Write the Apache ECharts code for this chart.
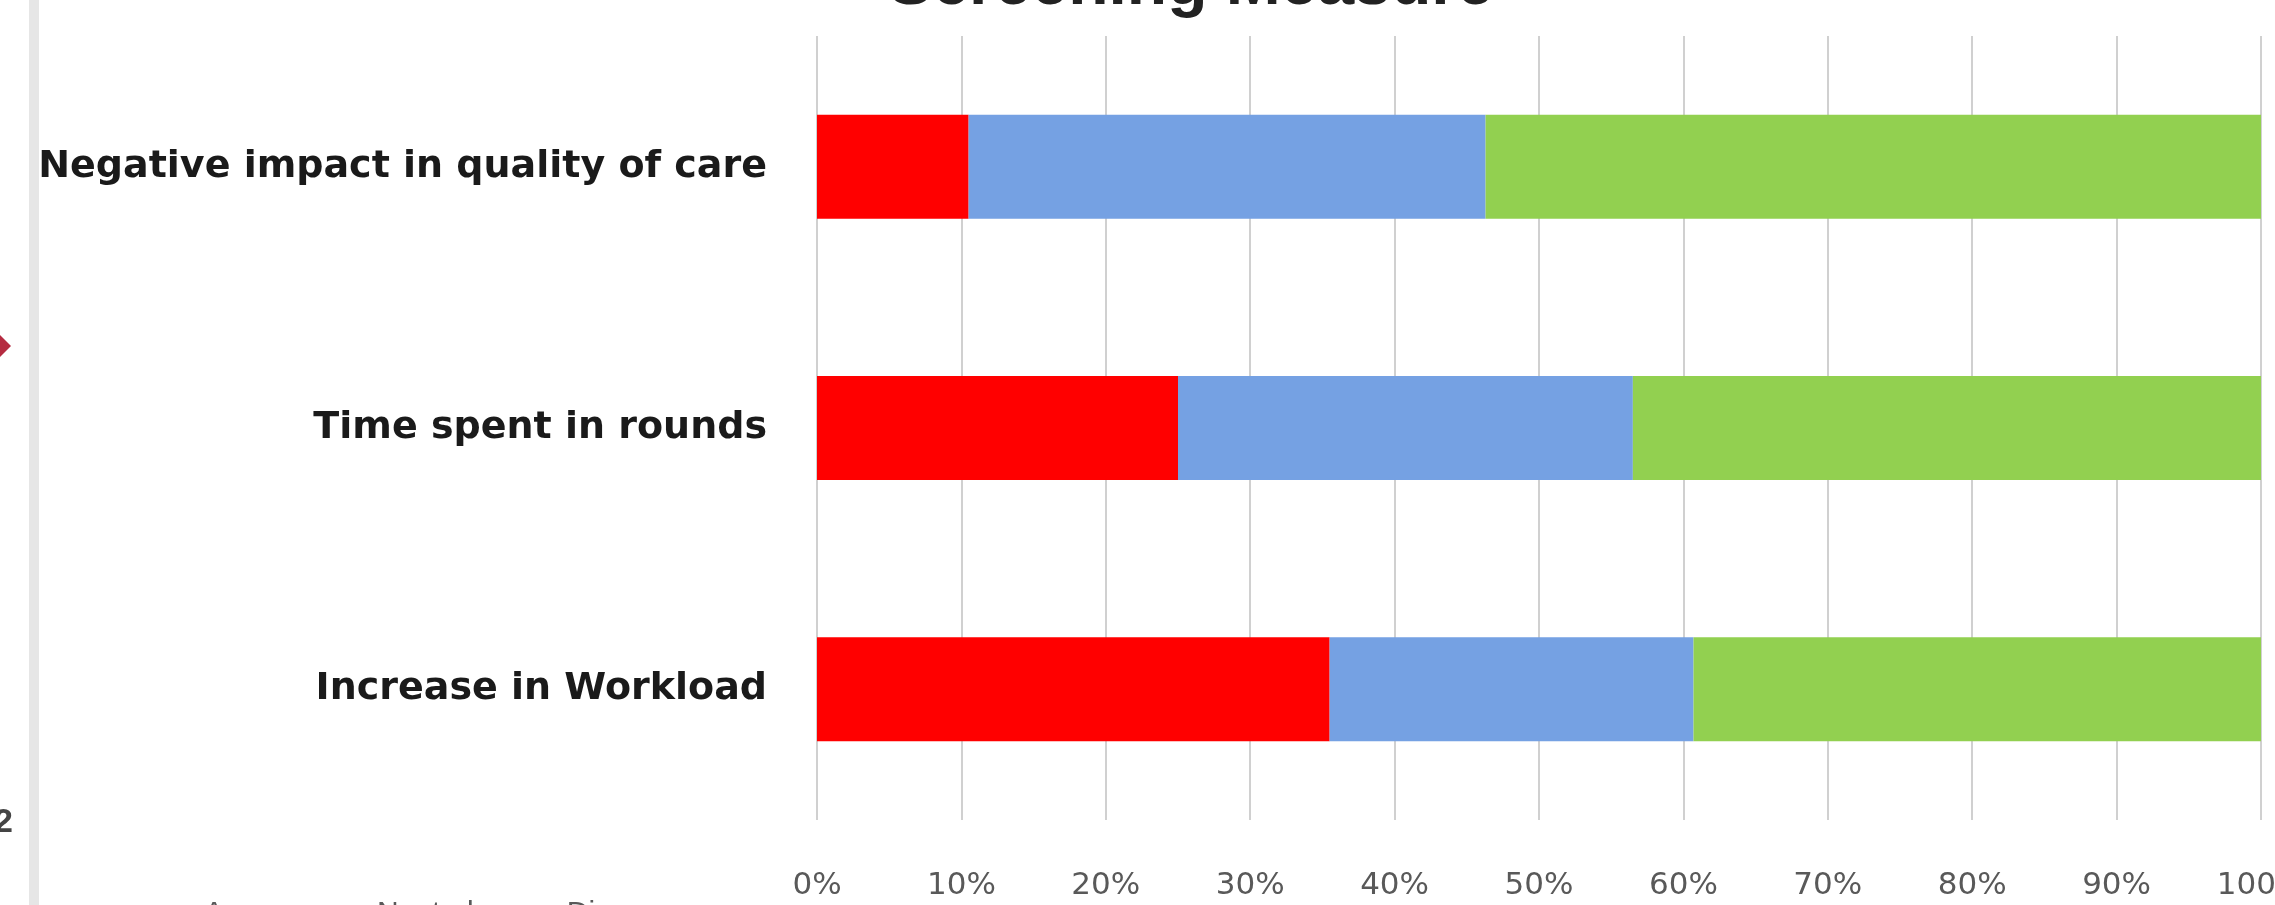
<!DOCTYPE html>
<html>
<head>
<meta charset="utf-8">
<title>Screening Measure</title>
<script src="https://cdn.jsdelivr.net/npm/echarts@6/dist/echarts.min.js"></script>
<style>
  html, body { margin: 0; padding: 0; background: #ffffff; }
  #chart { width: 2275px; height: 905px; }
</style>
</head>
<body>
<div id="chart"></div>
<script>
// Survey responses per statement, in percent of respondents
const categories = ['Negative impact in quality of care', 'Time spent in rounds', 'Increase in Workload'];
const seriesNames = ['Agree', 'Neutral', 'Disagree'];
const agree    = [10.5, 25.0, 35.5];
const neutral  = [35.8, 31.5, 25.2];
const disagree = [53.7, 43.5, 39.3];
const xTicks = { min: 0, max: 100, interval: 10 };

const colors = ['#FF0000', '#75A1E3', '#92D050'];
const fontFamily = '"Liberation Sans", Arial, sans-serif';
const wideFont = '"DejaVu Sans", "Liberation Sans", sans-serif';

const chart = echarts.init(document.getElementById('chart'), null, { renderer: 'canvas' });

const makeBar = (name, data, color) => ({
  name: name,
  type: 'bar',
  stack: 'total',
  data: data,
  barWidth: 104,
  itemStyle: { color: color },
  emphasis: { disabled: true }
});

chart.setOption({
  animation: false,
  backgroundColor: '#ffffff',
  title: {
    text: 'Screening Measure',
    left: 1186,
    textAlign: 'center',
    top: -52,
    textStyle: { fontFamily: fontFamily, fontSize: 66, fontWeight: 'bold', color: '#222222' }
  },
  legend: {
    data: seriesNames,
    left: 178,
    top: 894,
    itemWidth: 16,
    itemHeight: 16,
    itemGap: 72,
    icon: 'rect',
    textStyle: { fontFamily: fontFamily, fontSize: 30, color: '#595959' }
  },
  grid: { left: 817, right: 14, top: 36, bottom: 85, containLabel: false, outerBoundsMode: 'none' },
  xAxis: {
    type: 'value',
    min: xTicks.min,
    max: xTicks.max,
    interval: xTicks.interval,
    axisLine: { show: false },
    axisTick: { show: false },
    splitLine: { show: true, lineStyle: { color: '#D0D0D0', width: 2 } },
    axisLabel: {
      formatter: '{value}%',
      margin: 50,
      fontFamily: wideFont,
      fontSize: 31,
      color: '#595959',
      hideOverlap: false
    }
  },
  yAxis: {
    type: 'category',
    data: categories,
    inverse: true,
    axisLine: { show: false },
    axisTick: { show: false },
    splitLine: { show: false },
    axisLabel: {
      margin: 50,
      fontFamily: wideFont,
      fontSize: 38,
      fontWeight: 'bold',
      color: '#1a1a1a'
    }
  },
  series: [
    makeBar(seriesNames[0], agree, colors[0]),
    makeBar(seriesNames[1], neutral, colors[1]),
    makeBar(seriesNames[2], disagree, colors[2])
  ],
  graphic: [
    // edge of the neighbouring panel on the left
    { type: 'rect', shape: { x: 29, y: 0, width: 10, height: 905 }, style: { fill: '#E6E6E6' }, silent: true },
    { type: 'polygon', shape: { points: [[0, 335], [11, 346], [0, 357]] }, style: { fill: '#B52B40' }, silent: true },
    { type: 'text', x: -6, y: 806, style: { text: '2', fontFamily: fontFamily, fontSize: 34, fontWeight: 'bold', fill: '#444444' }, silent: true }
  ]
});
</script>
</body>
</html>
